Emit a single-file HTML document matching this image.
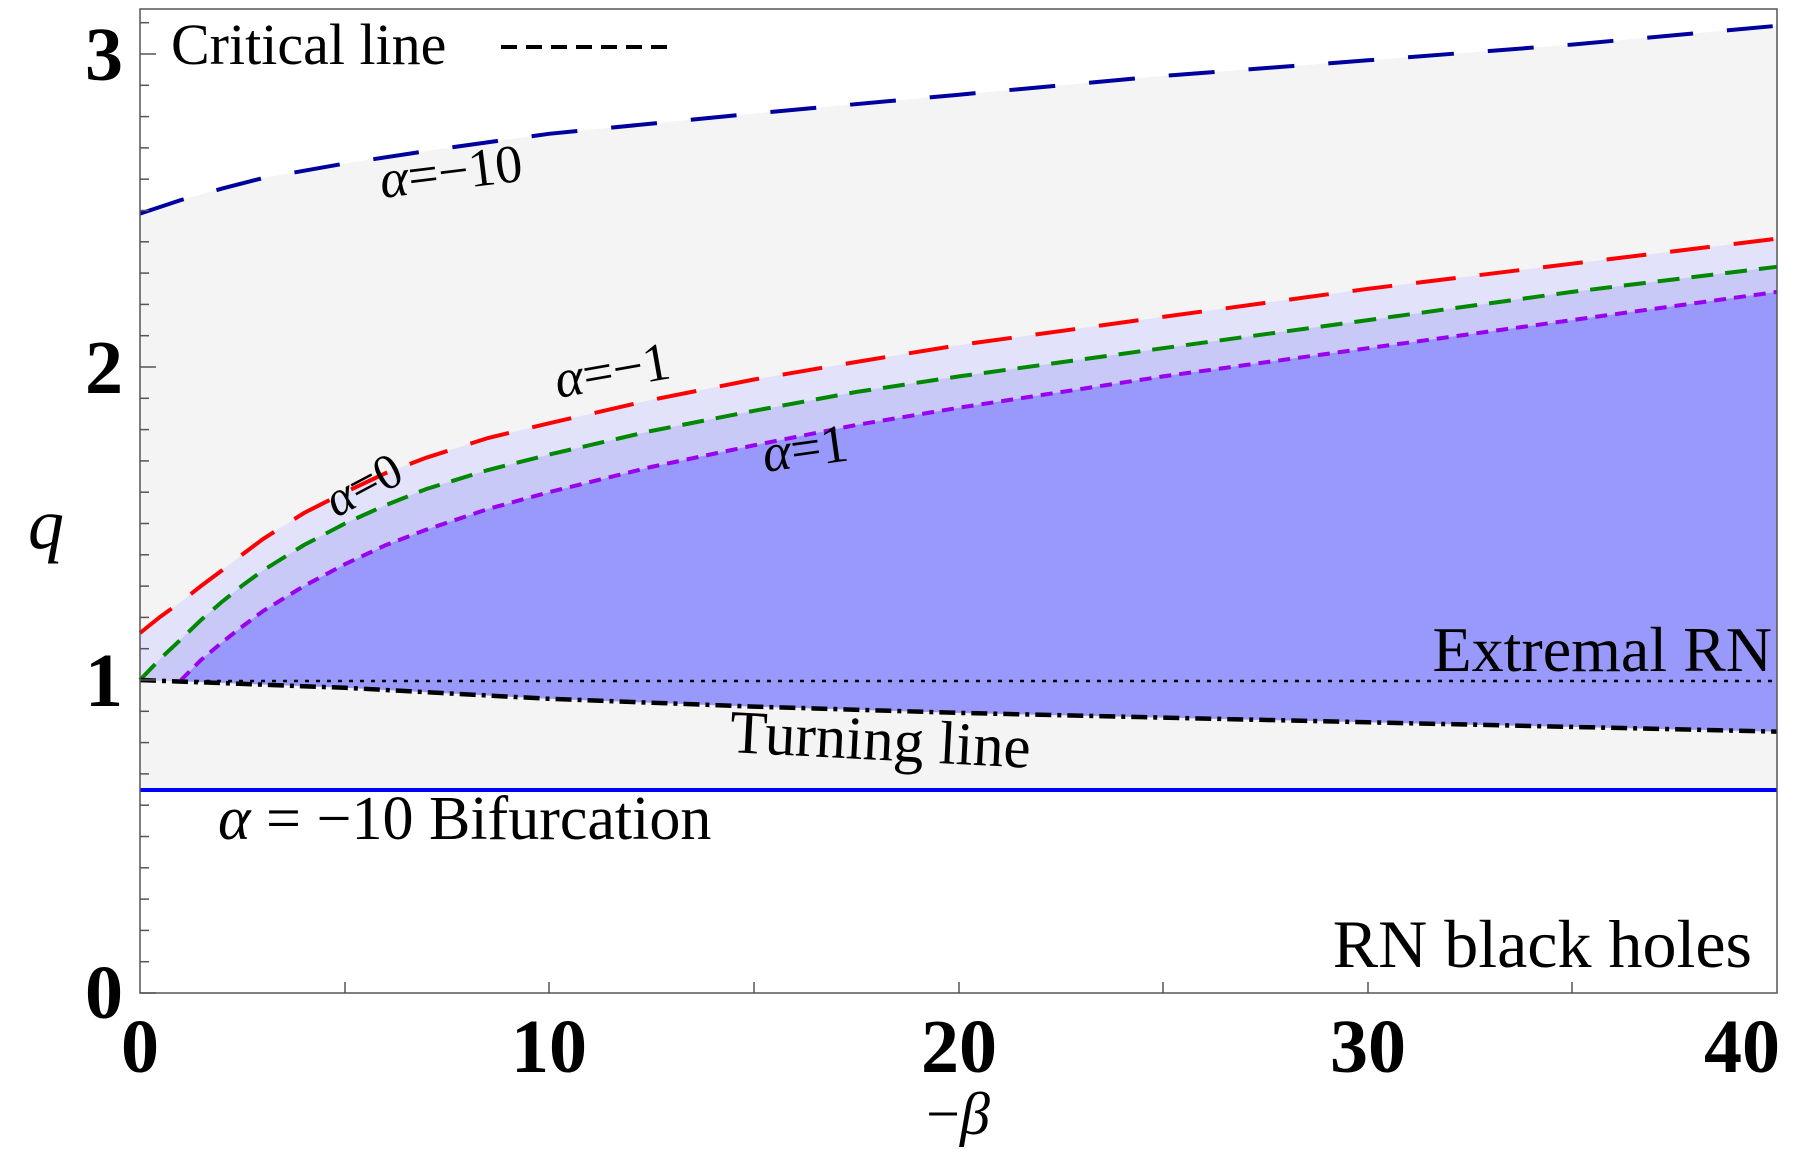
<!DOCTYPE html>
<html><head><meta charset="utf-8"><style>
html,body{margin:0;padding:0;background:#fff;}
svg{display:block;}
text{font-family:"Liberation Serif","DejaVu Serif",serif;fill:#000;}
</style></head><body>
<svg width="1798" height="1152" viewBox="0 0 1798 1152" xmlns="http://www.w3.org/2000/svg" font-family="Liberation Serif, DejaVu Serif, serif">
<polygon fill="#f4f4f4" points="140,213.6 181,200 222,188.6 263,178 345,163.5 447,148 549,133.8 754,113.5 959,94.7 1163,75.9 1368,60.3 1572,44.6 1777,25.8 1777,790 140,790"/>
<polygon fill="#e2e2fb" points="140,633 160,617 181,601.8 201,586 222,570.4 243,554 263,539 304,513 345,492.2 386,473 426,457.8 488,438 549,423.3 651,400 754,379.5 856,362 959,345.1 1163,316.9 1368,288.8 1572,263.7 1777,238.7 1777,731.6 1572,726.9 1368,722.3 1163,717.6 959,712.9 754,706.6 549,698.8 345,687.8 140,680"/>
<polygon fill="#c9c9f7" points="140,680 160,659 181,639.3 201,620 222,601.8 243,585 263,570.4 304,545 345,523.5 386,505 426,489.1 488,470 549,454.6 651,431 754,410.8 856,392 959,376.4 1163,348.2 1368,320.1 1572,291.9 1777,266.8 1777,731.6 1572,726.9 1368,722.3 1163,717.6 959,712.9 754,706.6 549,698.8 345,687.8 140,680"/>
<polygon fill="#9999fb" points="181,680 201,660 222,642.4 243,626 263,611.1 304,586 345,564.2 386,545 426,529.8 488,509 549,492.2 651,467 754,445.3 856,425 959,407.7 1163,376.4 1368,348.2 1572,320.1 1777,291.9 1777,731.6 1572,726.9 1368,722.3 1163,717.6 959,712.9 754,706.6 549,698.8 345,687.8 181,681"/>
<polyline fill="none" stroke="#00009f" stroke-width="4" stroke-dasharray="46,34" points="140,213.6 181,200 222,188.6 263,178 345,163.5 447,148 549,133.8 754,113.5 959,94.7 1163,75.9 1368,60.3 1572,44.6 1777,25.8"/>
<polyline fill="none" stroke="#ff0000" stroke-width="4" stroke-dasharray="40,24" points="140,633 160,617 181,601.8 201,586 222,570.4 243,554 263,539 304,513 345,492.2 386,473 426,457.8 488,438 549,423.3 651,400 754,379.5 856,362 959,345.1 1163,316.9 1368,288.8 1572,263.7 1777,238.7"/>
<polyline fill="none" stroke="#008800" stroke-width="4" stroke-dasharray="22,12" points="140,680 160,659 181,639.3 201,620 222,601.8 243,585 263,570.4 304,545 345,523.5 386,505 426,489.1 488,470 549,454.6 651,431 754,410.8 856,392 959,376.4 1163,348.2 1368,320.1 1572,291.9 1777,266.8"/>
<polyline fill="none" stroke="#9900ee" stroke-width="4" stroke-dasharray="12,8" points="181,680 201,660 222,642.4 243,626 263,611.1 304,586 345,564.2 386,545 426,529.8 488,509 549,492.2 651,467 754,445.3 856,425 959,407.7 1163,376.4 1368,348.2 1572,320.1 1777,291.9"/>
<line x1="140" y1="681" x2="1777" y2="681" stroke="#000" stroke-width="2.5" stroke-dasharray="4,7"/>
<polyline fill="none" stroke="#000" stroke-width="4.5" stroke-dasharray="16,6,4,6" points="140,680 345,687.8 549,698.8 754,706.6 959,712.9 1163,717.6 1368,722.3 1572,726.9 1777,731.6"/>
<line x1="140" y1="790" x2="1777" y2="790" stroke="#0000ff" stroke-width="4"/>
<rect x="140" y="9" width="1637" height="984" fill="none" stroke="#555" stroke-width="1.5"/>
<g stroke="#555" stroke-width="1.5">
<line x1="140" y1="993" x2="156" y2="993"/><line x1="140" y1="680" x2="156" y2="680"/><line x1="140" y1="367" x2="156" y2="367"/><line x1="140" y1="54" x2="156" y2="54"/>
<line x1="140" y1="961.7" x2="149" y2="961.7"/><line x1="140" y1="930.4" x2="149" y2="930.4"/><line x1="140" y1="899.1" x2="149" y2="899.1"/><line x1="140" y1="867.8" x2="149" y2="867.8"/><line x1="140" y1="836.5" x2="149" y2="836.5"/><line x1="140" y1="805.2" x2="149" y2="805.2"/><line x1="140" y1="773.9" x2="149" y2="773.9"/><line x1="140" y1="742.6" x2="149" y2="742.6"/><line x1="140" y1="711.3" x2="149" y2="711.3"/>
<line x1="140" y1="648.7" x2="149" y2="648.7"/><line x1="140" y1="617.4" x2="149" y2="617.4"/><line x1="140" y1="586.1" x2="149" y2="586.1"/><line x1="140" y1="554.8" x2="149" y2="554.8"/><line x1="140" y1="523.5" x2="149" y2="523.5"/><line x1="140" y1="492.2" x2="149" y2="492.2"/><line x1="140" y1="460.9" x2="149" y2="460.9"/><line x1="140" y1="429.6" x2="149" y2="429.6"/><line x1="140" y1="398.3" x2="149" y2="398.3"/>
<line x1="140" y1="335.7" x2="149" y2="335.7"/><line x1="140" y1="304.4" x2="149" y2="304.4"/><line x1="140" y1="273.1" x2="149" y2="273.1"/><line x1="140" y1="241.8" x2="149" y2="241.8"/><line x1="140" y1="210.5" x2="149" y2="210.5"/><line x1="140" y1="179.2" x2="149" y2="179.2"/><line x1="140" y1="147.9" x2="149" y2="147.9"/><line x1="140" y1="116.6" x2="149" y2="116.6"/><line x1="140" y1="85.3" x2="149" y2="85.3"/><line x1="140" y1="22.7" x2="149" y2="22.7"/>
<line x1="345" y1="993" x2="345" y2="982"/><line x1="549" y1="993" x2="549" y2="982"/><line x1="754" y1="993" x2="754" y2="982"/><line x1="959" y1="993" x2="959" y2="982"/><line x1="1163" y1="993" x2="1163" y2="982"/><line x1="1368" y1="993" x2="1368" y2="982"/><line x1="1572" y1="993" x2="1572" y2="982"/>
</g>
<g font-size="76" font-weight="bold" text-anchor="middle">
<text x="104" y="80">3</text><text x="104" y="393">2</text><text x="104" y="706">1</text><text x="104" y="1018">0</text>
<text x="140" y="1072">0</text><text x="549" y="1072">10</text><text x="959" y="1072">20</text><text x="1368" y="1072">30</text><text x="1742" y="1072">40</text>
</g>
<text x="958" y="1134" font-size="60" text-anchor="middle"><tspan>−</tspan><tspan font-style="italic">β</tspan></text>
<text x="28" y="548" font-size="72" font-style="italic">q</text>
<text x="171" y="64" font-size="58">Critical line</text>
<line x1="501" y1="47" x2="667" y2="47" stroke="#000" stroke-width="4" stroke-dasharray="16,9"/>
<text x="382" y="198" font-size="54" transform="rotate(-7 382 198)"><tspan font-style="italic">α</tspan>=−10</text>
<text x="558" y="398" font-size="54" transform="rotate(-10 558 398)"><tspan font-style="italic">α</tspan>=−1</text>
<text x="336" y="518" font-size="50" transform="rotate(-28 336 518)"><tspan font-style="italic">α</tspan>=0</text>
<text x="765" y="472" font-size="54" transform="rotate(-8 765 472)"><tspan font-style="italic">α</tspan>=1</text>
<text x="1772" y="671" font-size="64" text-anchor="end">Extremal RN</text>
<text x="729" y="752" font-size="61" transform="rotate(3 729 752)">Turning line</text>
<text x="218" y="839" font-size="62"><tspan font-style="italic">α</tspan> = −10 Bifurcation</text>
<text x="1752" y="967" font-size="68" text-anchor="end">RN black holes</text>
</svg>
</body></html>
